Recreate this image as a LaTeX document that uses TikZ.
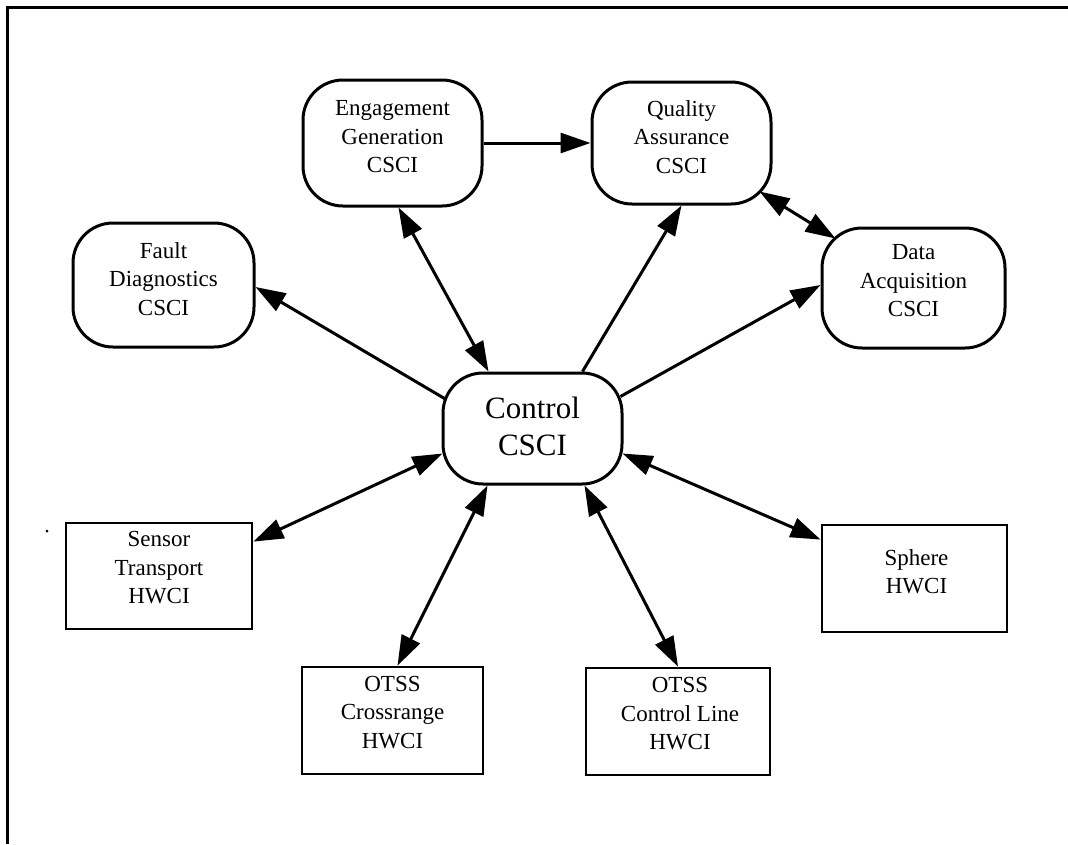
\documentclass[tikz,border=0pt]{standalone}
\usepackage{fontspec}
\setmainfont{Liberation Serif}
\usetikzlibrary{arrows.meta,calc}
\begin{document}
\begin{tikzpicture}[x=1pt,y=-1pt,
  soft/.style={draw,line width=3pt,rounded corners=40pt,inner sep=0pt},
  hw/.style={draw,line width=2.8pt,inner sep=0pt},
  lbl/.style={align=center,font=\fontsize{23}{28.5}\selectfont,inner sep=0pt},
  biglbl/.style={align=center,font=\fontsize{31}{37}\selectfont,inner sep=0pt},
  tip/.tip={Triangle[length=30pt,width=20pt]},
  link/.style={line width=3pt,-tip},
  both/.style={line width=3pt,tip-tip}]

\useasboundingbox (0,0) rectangle (1068,844);

% page frame (top and left edges)
\draw[line width=3pt] (7,844) -- (7,7.5) -- (1068,7.5);

% software configuration items
\node[soft,minimum width=179pt,minimum height=126pt] (eng) at (392.5,143) {};
\node[lbl] (engT) at ($(eng.center)+(0,-6)$) {Engagement\\Generation\\CSCI};

\node[soft,minimum width=179pt,minimum height=122pt] (qa) at (681.5,143) {};
\node[lbl] (qaT) at ($(qa.center)+(0,-6)$) {Quality\\Assurance\\CSCI};

\node[soft,minimum width=183pt,minimum height=120pt] (da) at (913.5,288) {};
\node[lbl] (daT) at ($(da.center)+(0,-7)$) {Data\\Acquisition\\CSCI};

\node[soft,minimum width=181pt,minimum height=124pt] (fd) at (163.5,285) {};
\node[lbl] (fdT) at ($(fd.center)+(0,-6)$) {Fault\\Diagnostics\\CSCI};

\node[soft,minimum width=179pt,minimum height=111pt] (ctl) at (532.5,428.5) {};
\node[biglbl] (ctlT) at ($(ctl.center)+(0,-2)$) {Control\\CSCI};

% hardware configuration items
\node[hw,minimum width=186pt,minimum height=106pt] (sen) at (159,576) {};
\node[lbl] (senT) at ($(sen.center)+(0,-8)$) {Sensor\\Transport\\HWCI};

\node[hw,minimum width=185pt,minimum height=107pt] (sph) at (914.5,578.5) {};
\node[lbl] (sphT) at ($(sph.center)+(2,-7)$) {Sphere\\HWCI};

\node[hw,minimum width=181pt,minimum height=107pt] (ocr) at (392.5,720.5) {};
\node[lbl] (ocrT) at ($(ocr.center)+(0,-8)$) {OTSS\\Crossrange\\HWCI};

\node[hw,minimum width=184pt,minimum height=107pt] (ocl) at (678,721.5) {};
\node[lbl] (oclT) at ($(ocl.center)+(2,-7.5)$) {OTSS\\Control Line\\HWCI};

% stray mark
\fill (47,531) circle (1.5);

% connections
\draw[link] (eng.east) -- (qa.west);
\draw[both] ($(qa.south east)+(-13,-14)$) -- ($(da.north west)+(15,12)$);
\draw[both] ($(eng.south)+(6,0)$) -- ($(ctl.north)+(-44,0)$);
\draw[link] ($(ctl.north)+(50,0)$) -- (qa.south);
\draw[link] ($(ctl.north east)+(-3,25)$) -- ($(da.west)+(0,-3)$);
\draw[link] ($(ctl.north west)+(3,27)$) -- ($(fd.east)+(0,2)$);
\draw[both] ($(ctl.south west)+(1,-32)$) -- ($(sen.north east)+(0,20)$);
\draw[both] ($(ctl.south)+(-45,0)$) -- ($(ocr.north)+(5,0)$);
\draw[both] ($(ctl.south)+(52,0)$) -- (ocl.north);
\draw[both] ($(ctl.south east)+(-1,-32)$) -- ($(sph.north west)+(0,16)$);
\end{tikzpicture}
\end{document}
